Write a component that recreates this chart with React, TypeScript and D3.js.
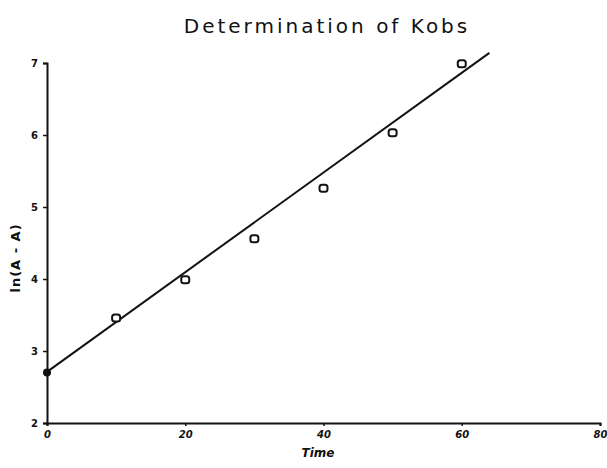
import * as d3 from "d3";
import { useEffect, useRef } from "react";

const timeValues = [0, 10, 20, 30, 40, 50, 60];
const lnValues = [2.7, 3.46, 3.99, 4.56, 5.26, 6.03, 6.99];

// fitted straight line, ends
const fitTime = [0, 64];
const fitLn = [2.71, 7.14];

const xTicks = [0, 20, 40, 60, 80];
const yTicks = [2, 3, 4, 5, 6, 7];

const W = 607;
const H = 468;

const App = () => {
  const chartRef = useRef<SVGSVGElement>(null);

  useEffect(() => {
    const svg = d3.select(chartRef.current);
    svg.selectAll("*").remove();

    const scaleX = d3.scaleLinear().domain([0, 80]).range([47, 600]);
    const scaleY = d3.scaleLinear().domain([2, 7]).range([423, 63]);
    const ink = "#111";

    // title
    svg.append("text")
      .attr("x", 327)
      .attr("y", 33)
      .attr("text-anchor", "middle")
      .attr("font-family", "'DejaVu Sans', sans-serif")
      .attr("font-size", 20)
      .attr("letter-spacing", 3)
      .attr("fill", ink)
      .text("Determination of Kobs");

    // axes
    const xAxis = d3.axisBottom(scaleX).tickValues(xTicks).tickSize(3).tickPadding(5).tickFormat(d3.format("d"));
    const gx = svg.append("g")
      .attr("transform", `translate(0, ${scaleY(2)})`)
      .call(xAxis);

    const yAxis = d3.axisLeft(scaleY).tickValues(yTicks).tickSize(4).tickPadding(5).tickFormat(d3.format("d"));
    const gy = svg.append("g")
      .attr("transform", `translate(${scaleX(0)}, 0)`)
      .call(yAxis);

    [gx, gy].forEach((g) => {
      g.select(".domain").attr("stroke", ink).attr("stroke-width", 2);
      g.selectAll(".tick line").attr("stroke", ink).attr("stroke-width", 1.5);
      g.selectAll(".tick text")
        .attr("fill", ink)
        .attr("font-family", "'DejaVu Sans', sans-serif")
        .attr("font-weight", "bold")
        .attr("font-size", 10);
    });
    gx.selectAll(".tick text").attr("font-style", "italic");

    // axis titles
    svg.append("text")
      .attr("x", 318)
      .attr("y", 457)
      .attr("text-anchor", "middle")
      .attr("font-family", "'DejaVu Sans', sans-serif")
      .attr("font-weight", "bold")
      .attr("font-style", "italic")
      .attr("font-size", 12)
      .attr("fill", ink)
      .text("Time");

    svg.append("text")
      .attr("transform", `translate(20, 258) rotate(-90)`)
      .attr("text-anchor", "middle")
      .attr("font-family", "'DejaVu Sans', sans-serif")
      .attr("font-weight", "bold")
      .attr("font-size", 13)
      .attr("letter-spacing", 1)
      .attr("fill", ink)
      .text("ln(A - A)");

    // fitted line
    const line = d3.line<number>()
      .x((d, i) => scaleX(fitTime[i]))
      .y((d) => scaleY(d));
    svg.append("path")
      .attr("d", line(fitLn))
      .attr("fill", "none")
      .attr("stroke", ink)
      .attr("stroke-width", 2);

    // points
    const pts = timeValues.map((t, i) => ({ t, v: lnValues[i] }));
    svg.selectAll(".pt")
      .data(pts.slice(1))
      .enter()
      .append("rect")
      .attr("x", (d) => scaleX(d.t) - 4)
      .attr("y", (d) => scaleY(d.v) - 3.5)
      .attr("width", 8)
      .attr("height", 7)
      .attr("rx", 2.5)
      .attr("fill", "white")
      .attr("stroke", ink)
      .attr("stroke-width", 2);

    svg.append("circle")
      .attr("cx", scaleX(pts[0].t))
      .attr("cy", scaleY(pts[0].v))
      .attr("r", 4)
      .attr("fill", ink);
  }, []);

  return (
    <svg
      ref={chartRef}
      width={W}
      height={H}
      style={{ position: "absolute", left: 0, top: 0, background: "white" }}
    ></svg>
  );
};

export default App;
